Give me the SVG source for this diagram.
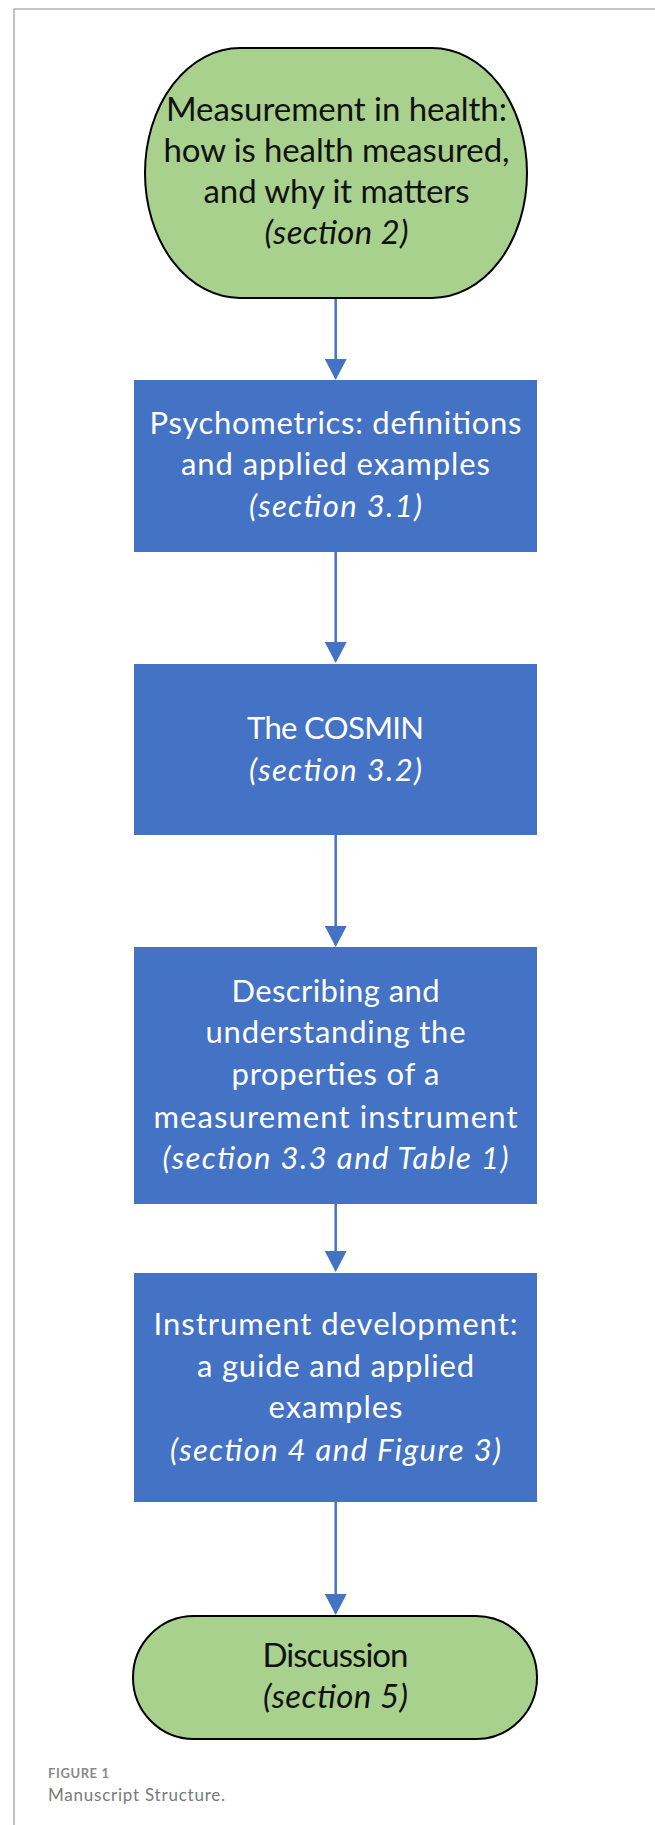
<svg xmlns="http://www.w3.org/2000/svg" width="655" height="1825" viewBox="0 0 655 1825">
  <defs>
    <style>
      .green { fill: #a9d18e; stroke: #000; stroke-width: 2; }
      .blue { fill: #4472c4; }
      .t { font-family: Lato, "Open Sans", sans-serif; font-size: 31px; text-anchor: middle; }
      .big { font-size: 33px; }
      .dark { fill: #111; }
      .light { fill: #fff; }
      .it { font-style: italic; }
      .conn { stroke: #4472c4; stroke-width: 2.5; fill: none; marker-end: url(#arrow); }
      .frame { stroke: #b3b3b3; stroke-width: 1.5; fill: none; }
      .cap1 { font-family: Lato, "Open Sans", sans-serif; font-size: 13px; font-weight: bold; fill: #8a8a8a; }
      .cap2 { font-family: Lato, "Open Sans", sans-serif; font-size: 17px; fill: #7a7a7a; }
    </style>
    <marker id="arrow" markerUnits="userSpaceOnUse" markerWidth="21" markerHeight="22" refX="19" refY="11" orient="auto">
      <path d="M0,0 L21,11 L0,22 z" fill="#4472c4"/>
    </marker>
  </defs>

  <path class="frame" d="M14,1825 L14,9 L655,9"/>

  <g id="connectors">
    <line class="conn" x1="335.7" y1="298" x2="335.7" y2="378"/>
    <line class="conn" x1="335.7" y1="552" x2="335.7" y2="661"/>
    <line class="conn" x1="335.7" y1="835" x2="335.7" y2="945"/>
    <line class="conn" x1="335.7" y1="1204" x2="335.7" y2="1270"/>
    <line class="conn" x1="335.7" y1="1502" x2="335.7" y2="1613"/>
  </g>

  <g id="node-measurement">
    <rect class="green" x="145" y="48" width="382" height="250" rx="95" ry="125"/>
    <text class="t big dark" x="336.5" y="121" textLength="341">Measurement in health:</text>
    <text class="t big dark" x="336.5" y="162" textLength="346">how is health measured,</text>
    <text class="t big dark" x="336.5" y="203" textLength="266">and why it matters</text>
    <text class="t big dark it" x="336.5" y="244" textLength="144">(section 2)</text>
  </g>

  <g id="node-psychometrics">
    <rect class="blue" x="134" y="380" width="403" height="172"/>
    <text class="t light" x="335.5" y="434" textLength="372">Psychometrics: definitions</text>
    <text class="t light" x="335.5" y="475" textLength="309">and applied examples</text>
    <text class="t light it" x="335.5" y="517" textLength="173">(section 3.1)</text>
  </g>

  <g id="node-cosmin">
    <rect class="blue" x="134" y="664" width="403" height="171"/>
    <text class="t light" x="335.5" y="739" textLength="177">The COSMIN</text>
    <text class="t light it" x="335.5" y="781" textLength="173">(section 3.2)</text>
  </g>

  <g id="node-properties">
    <rect class="blue" x="134" y="947" width="403" height="257"/>
    <text class="t light" x="335.5" y="1002" textLength="208">Describing and</text>
    <text class="t light" x="335.5" y="1043" textLength="260">understanding the</text>
    <text class="t light" x="335.5" y="1085" textLength="208">properties of a</text>
    <text class="t light" x="335.5" y="1128" textLength="364">measurement instrument</text>
    <text class="t light it" x="335.5" y="1169" textLength="346">(section 3.3 and Table 1)</text>
  </g>

  <g id="node-development">
    <rect class="blue" x="134" y="1273" width="403" height="229"/>
    <text class="t light" x="335.5" y="1335" textLength="364">Instrument development:</text>
    <text class="t light" x="335.5" y="1377" textLength="277">a guide and applied</text>
    <text class="t light" x="335.5" y="1418" textLength="134">examples</text>
    <text class="t light it" x="335.5" y="1461" textLength="331">(section 4 and Figure 3)</text>
  </g>

  <g id="node-discussion">
    <rect class="green" x="133" y="1616" width="404" height="123" rx="61" ry="61.5"/>
    <text class="t big dark" x="335.5" y="1667" textLength="146">Discussion</text>
    <text class="t big dark it" x="335.5" y="1708" textLength="145">(section 5)</text>
  </g>

  <g id="caption">
    <text class="cap1" x="48" y="1778" textLength="61">FIGURE 1</text>
    <text class="cap2" x="48" y="1801" textLength="177">Manuscript Structure.</text>
  </g>
</svg>
